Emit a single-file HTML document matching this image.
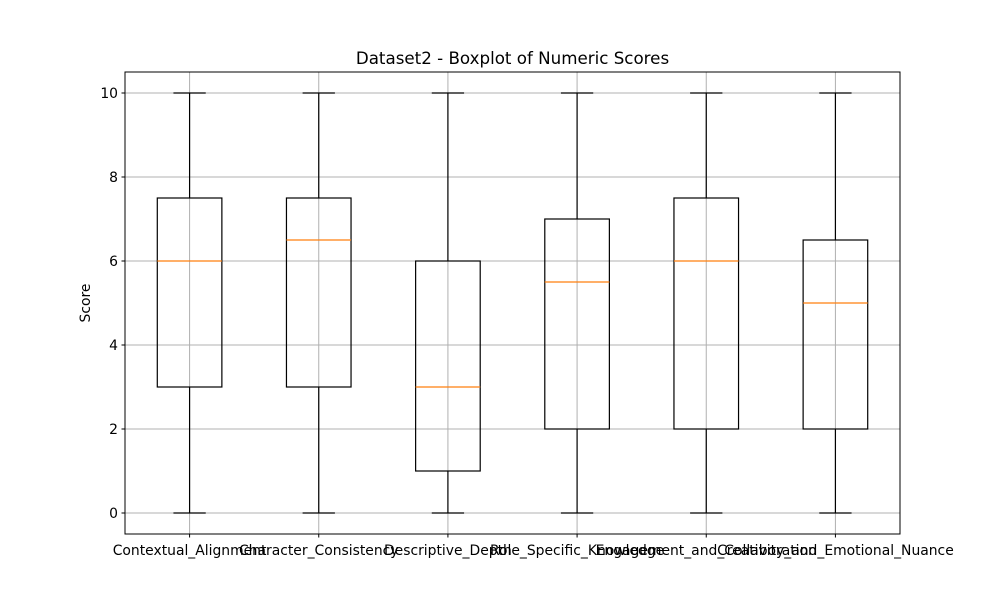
<!DOCTYPE html>
<html><head><meta charset="utf-8"><style>body{margin:0;background:#fff}svg{display:block}text{font-family:"DejaVu Sans","Liberation Sans",sans-serif}</style></head>
<body>
<svg id="chart" width="1000" height="600" xmlns="http://www.w3.org/2000/svg">
<rect width="1000" height="600" fill="#fff"/>
<g id="grid"></g><g id="boxes"></g><g id="axes"></g>
</svg>
<script>
const categories=["Contextual_Alignment","Character_Consistency","Descriptive_Depth","Role_Specific_Knowledge","Engagement_and_Collaboration","Creativity_and_Emotional_Nuance"];
const whiskerLow=[0,0,0,0,0,0];
const q1=[3,3,1,2,2,2];
const medians=[6,6.5,3,5.5,6,5];
const q3=[7.5,7.5,6,7,7.5,6.5];
const whiskerHigh=[10,10,10,10,10,10];
const yTicks=[0,2,4,6,8,10];
const L=125,R=900,T=72,B=534;
const x=i=>L+(i+1-0.5)*(R-L)/6;
const y=v=>B-(v+0.5)*(B-T)/11;
const NS="http://www.w3.org/2000/svg";
function mk(tag,attrs,parent,txt){const e=document.createElementNS(NS,tag);for(const k in attrs)e.setAttribute(k,attrs[k]);if(txt!==undefined)e.textContent=txt;document.getElementById(parent).appendChild(e);return e;}
yTicks.forEach(t=>{const g=mk('line',{x1:L,x2:R,y1:y(t),y2:y(t),stroke:'#b0b0b0','stroke-width':1},'grid');

});
categories.forEach((c,i)=>{const g=mk('line',{x1:x(i),x2:x(i),y1:T,y2:B,stroke:'#b0b0b0','stroke-width':1},'grid');

});
const bw=0.5*(R-L)/6, cw=bw/2;
categories.forEach((c,i)=>{const cx=x(i);
const grp=mk('g',{},'boxes');


const add=(tag,a)=>{const e=document.createElementNS(NS,tag);for(const k in a)e.setAttribute(k,a[k]);e.setAttribute('stroke-width',1.2);grp.appendChild(e);return e;};
add('line',{x1:cx,x2:cx,y1:y(whiskerLow[i]),y2:y(q1[i]),stroke:'#000'});
add('line',{x1:cx,x2:cx,y1:y(q3[i]),y2:y(whiskerHigh[i]),stroke:'#000'});
add('line',{x1:cx-cw/2,x2:cx+cw/2,y1:y(whiskerLow[i]),y2:y(whiskerLow[i]),stroke:'#000'});
add('line',{x1:cx-cw/2,x2:cx+cw/2,y1:y(whiskerHigh[i]),y2:y(whiskerHigh[i]),stroke:'#000'});
add('rect',{x:cx-bw/2,y:y(q3[i]),width:bw,height:y(q1[i])-y(q3[i]),fill:'none',stroke:'#000'});
add('line',{x1:cx-bw/2,x2:cx+bw/2,y1:y(medians[i]),y2:y(medians[i]),stroke:'#ff7f0e'});
const tk=mk('line',{x1:cx,x2:cx,y1:B,y2:B+3.5,stroke:'#000'},'axes');


const lb=mk('text',{x:cx,y:B+21,'text-anchor':'middle','font-size':13.9},'axes',c);

});
yTicks.forEach(t=>{const tk=mk('line',{x1:L-3.5,x2:L,y1:y(t),y2:y(t),stroke:'#000'},'axes');


const lb=mk('text',{x:L-7,y:y(t)+5,'text-anchor':'end','font-size':13.9},'axes',t);

});
const fr=mk('rect',{x:L,y:T,width:R-L,height:B-T,fill:'none',stroke:'#000','stroke-width':1},'axes');


const ti=mk('text',{x:(L+R)/2,y:T-8,'text-anchor':'middle','font-size':16.7},'axes','Dataset2 - Boxplot of Numeric Scores');


const yt=mk('text',{x:0,y:0,'text-anchor':'middle','font-size':13.9,transform:'translate(90,'+((T+B)/2)+') rotate(-90)'},'axes','Score');


</script>
</body></html>
